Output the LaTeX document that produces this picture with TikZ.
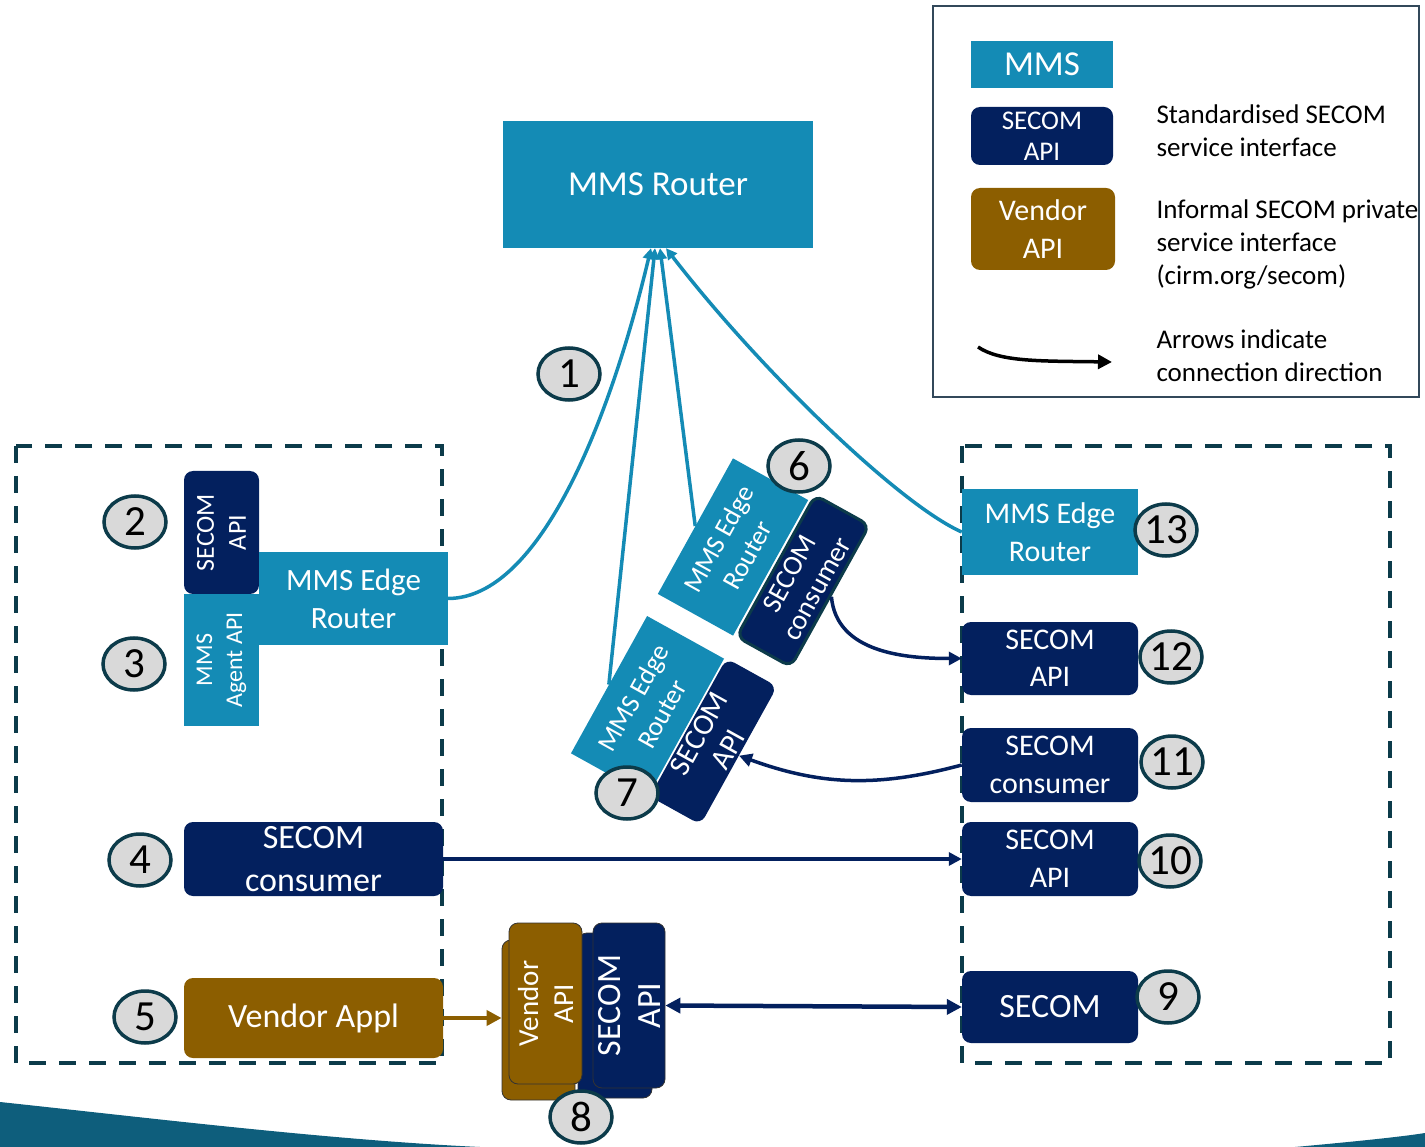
\documentclass[tikz,border=0pt]{standalone}
\usepackage{fontspec}
\setmainfont{Carlito}
\usetikzlibrary{arrows.meta,shapes.geometric}

\definecolor{mmsc}{RGB}{20,139,181}
\definecolor{secomc}{RGB}{3,32,94}
\definecolor{vendorc}{RGB}{140,94,0}
\definecolor{edgec}{RGB}{12,59,74}
\definecolor{numc}{RGB}{217,217,217}
\definecolor{bandc}{RGB}{14,94,124}
\definecolor{legc}{RGB}{50,72,90}

\newcommand{\fsz}[2]{\fontsize{#1}{#2}\selectfont}

\tikzset{
  mmsbox/.style={fill=mmsc, text=white, align=center, inner sep=0pt},
  secombox/.style={fill=secomc, text=white, align=center, rounded corners=9pt, inner sep=0pt},
  vendorbox/.style={fill=vendorc, text=white, align=center, rounded corners=9pt, inner sep=0pt},
  numtag/.style={ellipse, draw=edgec, line width=3.5pt, fill=numc, minimum width=62pt,
    minimum height=52pt, inner xsep=-8pt, inner ysep=0pt, font=\fsz{43}{43}},
  zone/.style={draw=edgec, line width=4pt, dash pattern=on 17pt off 13pt},
  mmslink/.style={draw=mmsc, line width=3.5pt, -{Triangle[length=11pt,width=11pt]}},
  secomlink/.style={draw=secomc, line width=3.5pt, -{Triangle[length=13pt,width=13pt]}},
}

\begin{document}
\begin{tikzpicture}[x=1pt,y=-1pt]
\useasboundingbox (0,0) rectangle (1425,1147);

% band at the bottom
\fill[bandc] (0,1102) .. controls (150,1118) and (330,1140) .. (480,1147) -- (0,1147) -- cycle;
\fill[bandc] (1295,1147) .. controls (1350,1142) and (1400,1137) .. (1425,1133) -- (1425,1147) -- cycle;

% legend
\draw[legc, line width=1.2pt] (933,6) rectangle (1419,397);
\node[mmsbox, minimum width=142pt, minimum height=47pt, font=\fsz{35}{40}] (lgmms) at (1042,64.5) {MMS};
\node[secombox, minimum width=142pt, minimum height=58pt, font=\fsz{27}{31}] (lgsecom) at (1042,136) {SECOM\\API};
\node[vendorbox, minimum width=144pt, minimum height=82pt, font=\fsz{30}{38}] (lgvendor) at (1043,229) {Vendor\\API};
\node[anchor=west, align=left, font=\fsz{27}{33}] (lgtxta) at (1153,131) {Standardised SECOM\\service interface};
\node[anchor=west, align=left, font=\fsz{27}{33}] (lgtxtb) at (1153,244) {Informal SECOM private\\service interface\\(cirm.org/secom)};
\node[anchor=west, align=left, font=\fsz{27}{33}] (lgtxtc) at (1153,356) {Arrows indicate\\connection direction};
\coordinate (lgA) at (978,347);
\coordinate (lgB) at (1112,362);
\draw[line width=3.5pt, -{Triangle[length=14pt,width=14pt]}] (lgA) .. controls (1000,362) and (1040,361) .. (lgB);

% dashed zones
\draw[zone] (16,446) rectangle (442,1063);
\draw[zone] (962,446) rectangle (1390,1063);

% router
\node[mmsbox, minimum width=310pt, minimum height=127pt, font=\fsz{35}{40}] (router) at (658,184.5) {MMS Router};

% left side
\node[secombox, rotate=90, minimum width=123pt, minimum height=75pt, font=\fsz{26}{32}] (api2) at (221.5,532.5) {SECOM\\API};
\node[mmsbox, rotate=90, minimum width=132pt, minimum height=75pt, font=\fsz{24}{30}] (agent3) at (221.5,660) {MMS\\Agent API};
\node[mmsbox, minimum width=189pt, minimum height=93pt, font=\fsz{31}{38}] (edgeL) at (353.5,598.5) {MMS Edge\\Router};
\node[secombox, minimum width=259pt, minimum height=74pt, font=\fsz{34}{43}] (cons4) at (313.5,859) {SECOM\\consumer};
\node[vendorbox, minimum width=259pt, minimum height=80pt, font=\fsz{34}{40}] (vendor5) at (313.5,1018) {Vendor Appl};

% right side
\node[mmsbox, minimum width=176pt, minimum height=86pt, font=\fsz{30}{38}] (edge13) at (1050,532) {MMS Edge\\Router};
\node[secombox, minimum width=176pt, minimum height=73pt, font=\fsz{30}{37}] (api12) at (1050,658.5) {SECOM\\API};
\node[secombox, minimum width=176pt, minimum height=74pt, font=\fsz{30}{38}] (cons11) at (1050,765) {SECOM\\consumer};
\node[secombox, minimum width=176pt, minimum height=74pt, font=\fsz{30}{38}] (api10) at (1050,859) {SECOM\\API};
\node[secombox, minimum width=176pt, minimum height=72pt, font=\fsz{34}{40}] (secom9) at (1050,1007) {SECOM};

% tilted edge routers
\node[mmsbox, rotate=61, minimum width=155pt, minimum height=86pt, font=\fsz{27}{33}] (e6) at (733,547) {MMS Edge\\Router};
\node[secombox, rotate=61, draw=edgec, line width=3pt, minimum width=162pt, minimum height=62pt, font=\fsz{28}{31}] (c6) at (803,581) {SECOM\\consumer};
\node[mmsbox, rotate=61, minimum width=157pt, minimum height=88pt, font=\fsz{27}{33}] (e7) at (647.5,706) {MMS Edge\\Router};
\node[secombox, rotate=61, minimum width=158pt, minimum height=58pt, font=\fsz{30}{33}] (a7) at (713.5,741.5) {SECOM\\API};

% stacked apis
\node[vendorbox, draw=black!80, line width=0.8pt, rotate=90, minimum width=160pt, minimum height=73pt] (vb) at (538.5,1020) {};
\node[secombox, draw=black!80, line width=0.8pt, rotate=90, minimum width=165pt, minimum height=74pt] (sb) at (615,1015.5) {};
\node[vendorbox, draw=black!80, line width=0.8pt, rotate=90, minimum width=161pt, minimum height=73pt, font=\fsz{29}{35}] (vf) at (545.5,1003.5) {Vendor\\API};
\node[secombox, draw=black!80, line width=0.8pt, rotate=90, minimum width=165pt, minimum height=72pt, font=\fsz{34}{40}] (sf) at (629,1005.5) {SECOM\\API};

% connections
\draw[mmslink] (edgeL.east) .. controls (540,598) and (610,420) .. ([xshift=-7pt]router.south);
\draw[mmslink] (e7.north) -- ([xshift=-3pt]router.south);
\draw[mmslink] (e6.north) -- ([xshift=2pt]router.south);
\draw[mmslink] (edge13.west) .. controls (900,505) and (760,370) .. ([xshift=8pt]router.south);

\draw[secomlink] (c6.south) to[out=-85, in=180] (api12.west);
\draw[secomlink] (cons11.west) to[out=195, in=-20] (a7.south);
\draw[secomlink, line width=4.5pt] (cons4.east) -- (api10.west);
\draw[draw=secomc, line width=4.5pt, {Triangle[length=15pt,width=15pt]}-{Triangle[length=15pt,width=15pt]}] (sf.south) -- (secom9.west);
\draw[draw=vendorc, line width=4.5pt, -{Triangle[length=15pt,width=15pt]}] (vendor5.east) -- (vendor5.east -| vb.north);

% numbers
\node[numtag] (n1) at (569,374) {1};
\node[numtag] (n2) at (135,522) {2};
\node[numtag] (n3) at (134,664) {3};
\node[numtag] (n4) at (140,860) {4};
\node[numtag] (n5) at (145,1017) {5};
\node[numtag] (n6) at (799,466) {6};
\node[numtag] (n7) at (627,793) {7};
\node[numtag] (n8) at (581,1117) {8};
\node[numtag] (n9) at (1168,997) {9};
\node[numtag] (n10) at (1170,861) {10};
\node[numtag] (n11) at (1172,762) {11};
\node[numtag] (n12) at (1171,657) {12};
\node[numtag] (n13) at (1166,530) {13};

\end{tikzpicture}
\end{document}
